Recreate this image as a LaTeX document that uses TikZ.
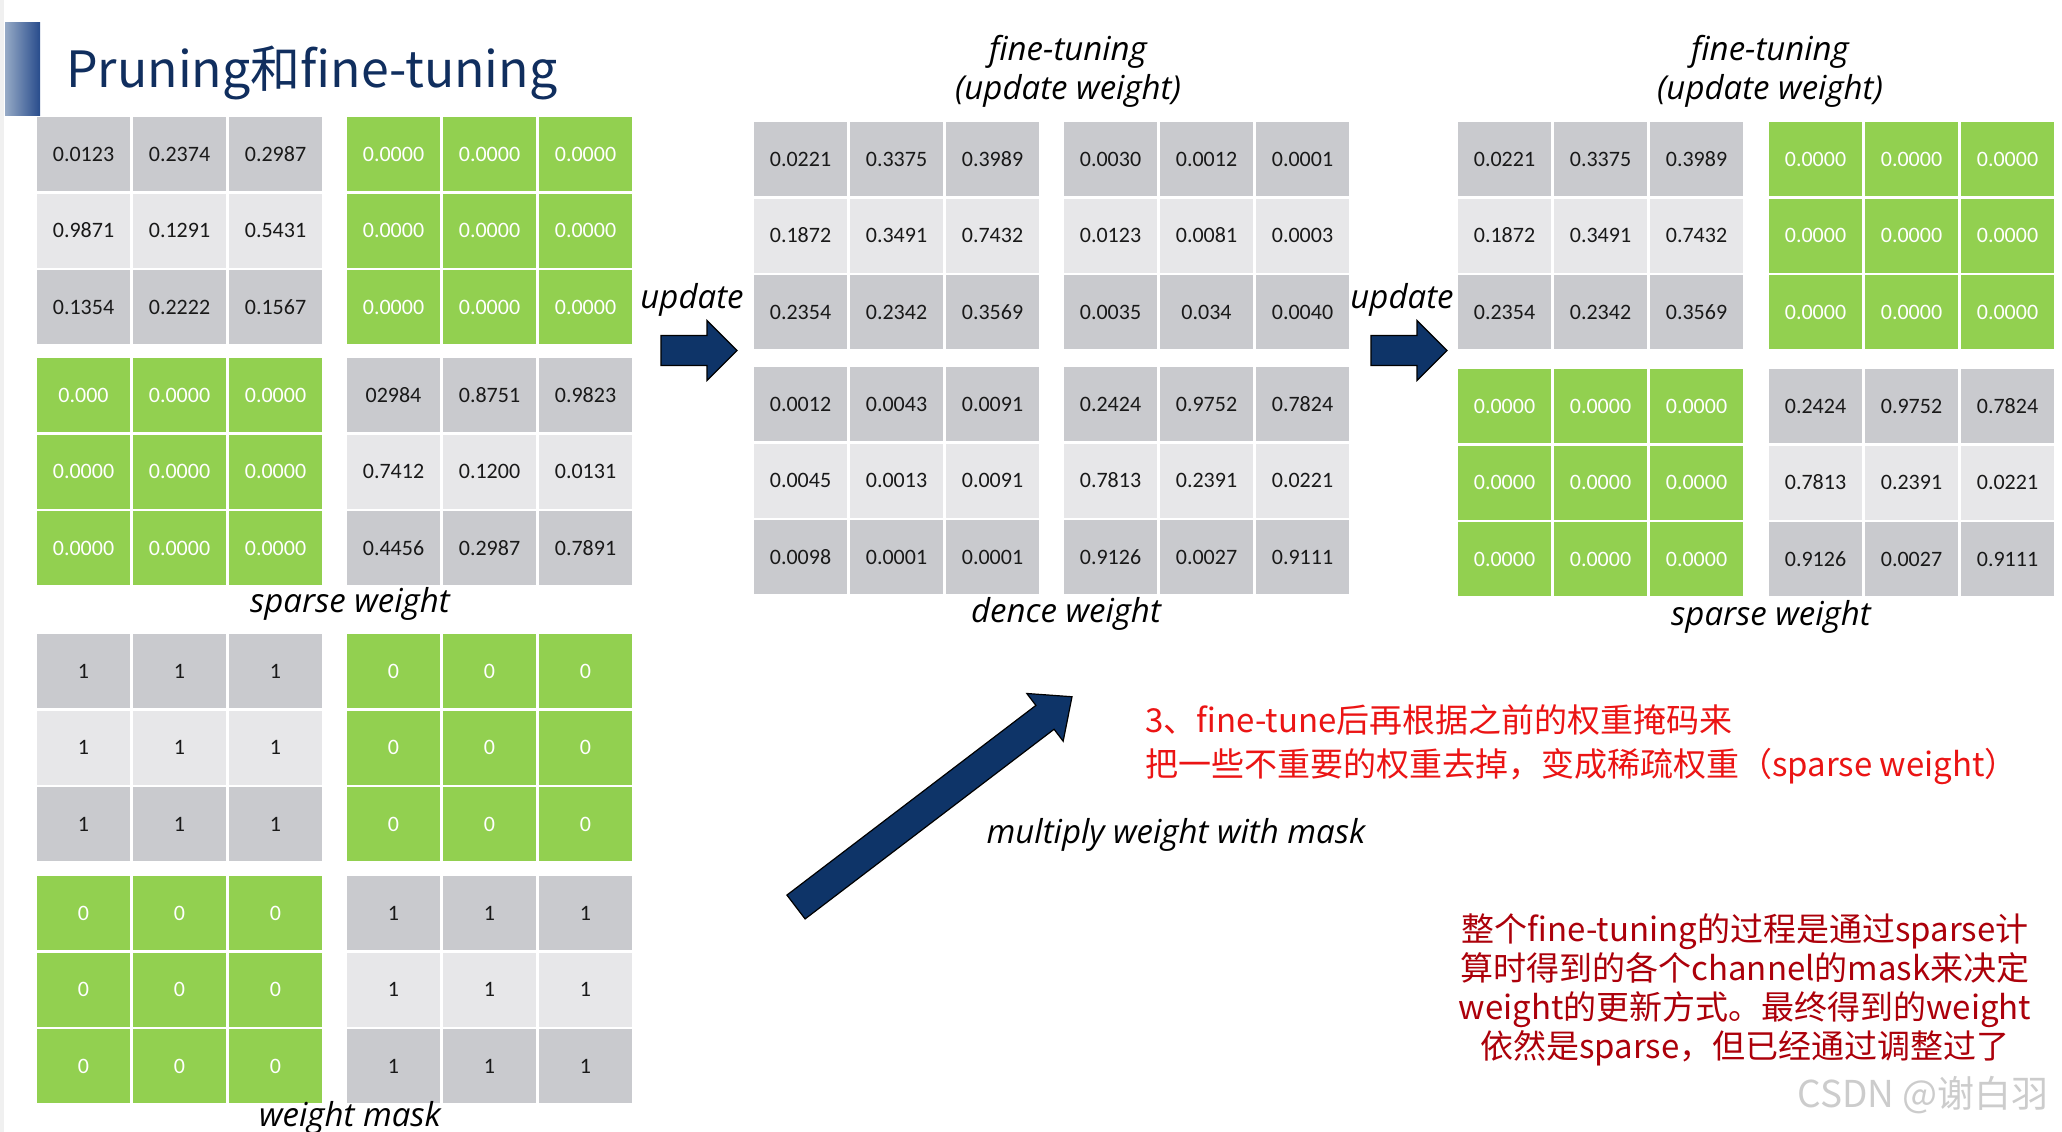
\documentclass[tikz,border=0pt]{standalone}
\usepackage{fontspec}
\usepackage{tikz}

\setmainfont{Carlito}
\newfontfamily\cjk{Noto Sans CJK SC}
\newfontfamily\lbl{Open Sans}

\definecolor{cellgrey}{RGB}{201,202,206}
\definecolor{cellgreymid}{RGB}{231,231,233}
\definecolor{cellgreen}{RGB}{146,208,80}
\definecolor{cellgreenmid}{RGB}{146,208,80}
\definecolor{numgrey}{RGB}{25,25,25}
\definecolor{numgreen}{RGB}{255,255,255}
\definecolor{navy}{RGB}{14,52,104}
\definecolor{titleblue}{RGB}{16,46,94}
\definecolor{barlight}{RGB}{150,170,198}
\definecolor{bardark}{RGB}{40,76,140}
\definecolor{notered}{RGB}{235,20,20}
\definecolor{notedark}{RGB}{172,0,10}

\tikzset{
  cell/.style={rectangle, inner sep=0pt, minimum width=93pt, minimum height=74pt,
    font=\fontsize{22}{24}\selectfont},
  caption/.style={font=\lbl\itshape\fontsize{33}{38}\selectfont},
  fatarrow/.style={draw=black, line width=1.2pt, fill=navy, line join=miter},
}

% 3x3 block of weights: name, left, top, colour (grey/green), values
\newcommand{\wblock}[5]{%
  \foreach \val [count=\k from 0] in {#5} {
    \pgfmathtruncatemacro{\row}{\k/3}
    \pgfmathtruncatemacro{\col}{mod(\k,3)}
    \ifnum\row=1 \def\cellfill{cell#4mid}\else\def\cellfill{cell#4}\fi
    \node[cell, fill=\cellfill, text=num#4] (#1-\k) at ({#2+46.5+96*\col},{#3+37+76.5*\row}) {\val};
  }%
}

% block arrow: tail, length, angle, head length
\newcommand{\fatarrow}[4]{%
  \draw[fatarrow, shift={(#1)}, rotate=#3]
    (0,-15) -- ({#2-#4},-15) -- ({#2-#4},-30) -- (#2,0) -- ({#2-#4},30) -- ({#2-#4},15) -- (0,15) -- cycle;
}

\begin{document}
\begin{tikzpicture}[x=1pt, y=-1pt]
  \fill[white] (0,0) rectangle (2062,1132);
  \useasboundingbox (0,0) rectangle (2062,1132);
  \fill[gray!12] (0,0) rectangle (4,1132);
  \fill[left color=barlight, right color=bardark] (5,23) rectangle (40,115);
  \node[anchor=base west, inner sep=0pt, text=titleblue,
    font=\cjk\fontsize{50}{56}\selectfont] (title) at (66,88) {Pruning和fine-tuning};

  % sparse weight
  \wblock{w11}{37}{117}{grey}{0.0123,0.2374,0.2987,0.9871,0.1291,0.5431,0.1354,0.2222,0.1567}
  \wblock{w12}{347}{117}{green}{0.0000,0.0000,0.0000,0.0000,0.0000,0.0000,0.0000,0.0000,0.0000}
  \wblock{w21}{37}{358}{green}{0.000,0.0000,0.0000,0.0000,0.0000,0.0000,0.0000,0.0000,0.0000}
  \wblock{w22}{347}{358}{grey}{02984,0.8751,0.9823,0.7412,0.1200,0.0131,0.4456,0.2987,0.7891}
  \node[caption] (sw1) at (350,604) {sparse weight};

  % weight mask
  \wblock{m11}{37}{634}{grey}{1,1,1,1,1,1,1,1,1}
  \wblock{m12}{347}{634}{green}{0,0,0,0,0,0,0,0,0}
  \wblock{m21}{37}{876}{green}{0,0,0,0,0,0,0,0,0}
  \wblock{m22}{347}{876}{grey}{1,1,1,1,1,1,1,1,1}
  \node[caption, anchor=base] (wm) at (350,1126) {weight mask};

  % dense weight
  \node[caption] (ft1) at (1068,52) {fine-tuning};
  \node[caption] (uw1) at (1068,91) {(update weight)};
  \wblock{d11}{754}{122}{grey}{0.0221,0.3375,0.3989,0.1872,0.3491,0.7432,0.2354,0.2342,0.3569}
  \wblock{d12}{1064}{122}{grey}{0.0030,0.0012,0.0001,0.0123,0.0081,0.0003,0.0035,0.034,0.0040}
  \wblock{d21}{754}{367}{grey}{0.0012,0.0043,0.0091,0.0045,0.0013,0.0091,0.0098,0.0001,0.0001}
  \wblock{d22}{1064}{367}{grey}{0.2424,0.9752,0.7824,0.7813,0.2391,0.0221,0.9126,0.0027,0.9111}
  \node[caption] (dw) at (1066,614) {dence weight};

  % sparse weight after fine-tuning
  \node[caption] (ft2) at (1770,52) {fine-tuning};
  \node[caption] (uw2) at (1770,91) {(update weight)};
  \wblock{s11}{1458}{122}{grey}{0.0221,0.3375,0.3989,0.1872,0.3491,0.7432,0.2354,0.2342,0.3569}
  \wblock{s12}{1769}{122}{green}{0.0000,0.0000,0.0000,0.0000,0.0000,0.0000,0.0000,0.0000,0.0000}
  \wblock{s21}{1458}{369}{green}{0.0000,0.0000,0.0000,0.0000,0.0000,0.0000,0.0000,0.0000,0.0000}
  \wblock{s22}{1769}{369}{grey}{0.2424,0.9752,0.7824,0.7813,0.2391,0.0221,0.9126,0.0027,0.9111}
  \node[caption] (sw2) at (1771,617) {sparse weight};

  % arrows
  \node[caption] (up1) at (692,300) {update};
  \node[caption] (up2) at (1402,300) {update};
  \coordinate (a1) at (661,350.5);
  \coordinate (a2) at (1371,350.5);
  \coordinate (a3) at (796,907);
  \fatarrow{a1}{76}{0}{30}
  \fatarrow{a2}{76}{0}{30}
  \fatarrow{a3}{347}{37.3}{34}
  \node[caption] (mul) at (1176,835) {multiply weight with mask};

  % notes
  \node[anchor=west, inner sep=0pt, align=left, text=notered,
    font=\cjk\fontsize{33}{44}\selectfont] (tip) at (1145,745)
    {3、fine-tune后再根据之前的权重掩码来\\把一些不重要的权重去掉，变成稀疏权重（sparse weight）};
  \node[inner sep=0pt, align=center, text=notedark,
    font=\cjk\fontsize{33}{39}\selectfont] (sum) at (1745,990)
    {整个fine-tuning的过程是通过sparse计\\算时得到的各个channel的mask来决定\\weight的更新方式。最终得到的weight\\依然是sparse，但已经通过调整过了};
  \node[text=gray!40, font=\cjk\fontsize{37}{40}\selectfont] (mark) at (1923,1095) {CSDN @谢白羽};
\end{tikzpicture}
\end{document}
